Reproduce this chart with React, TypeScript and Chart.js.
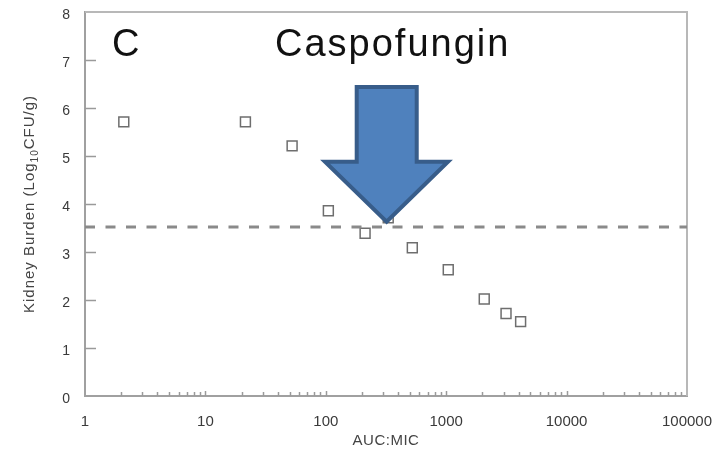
import { useEffect, useRef } from "react";
import { Chart, registerables } from "chart.js";

Chart.register(...registerables);

// ---- data ----
const aucMic = [2.1, 21.5, 52.5, 105, 212, 330, 523, 1040, 2070, 3140, 4150];
const kidneyBurden = [5.71, 5.71, 5.21, 3.86, 3.39, 3.71, 3.09, 2.63, 2.02, 1.72, 1.55];
const thresholdY = 3.52;
const thresholdX = [1, 100000];
const xTickValues = [1, 10, 100, 1000, 10000, 100000];
const yTickValues = [0, 1, 2, 3, 4, 5, 6, 7, 8];
const panelLetter = "C";
const panelTitle = "Caspofungin";
const xTitle = "AUC:MIC";
const yTitleParts = ["Kidney Burden (Log", "10", "CFU/g)"];
// arrow annotation in data units (x: AUC:MIC, y: log10 CFU/g)
const arrowX = { headLeft: 98.5, shaftLeft: 180.6, tip: 320, shaftRight: 569, headRight: 1035 };
const arrowY = { shaftTop: 6.44, headBase: 4.88, tip: 3.63 };

const FONT = "'Liberation Sans', Arial, Helvetica, sans-serif";

const decorPlugin = {
  id: "decor",
  beforeDatasetsDraw(chart: any) {
    const { ctx, chartArea: a, scales } = chart;
    const x = scales.x;
    const y = scales.y;
    ctx.save();
    // frame top and right
    ctx.strokeStyle = "#b8b8b8";
    ctx.lineWidth = 2;
    ctx.beginPath();
    ctx.moveTo(a.left, a.top);
    ctx.lineTo(a.right, a.top);
    ctx.lineTo(a.right, a.bottom);
    ctx.stroke();
    // inner ticks y
    ctx.strokeStyle = "#9a9a9a";
    ctx.lineWidth = 1.5;
    ctx.beginPath();
    for (const v of yTickValues) {
      if (v === 0 || v === 8) continue;
      const py = Math.round(y.getPixelForValue(v)) + 0.5;
      ctx.moveTo(a.left, py);
      ctx.lineTo(a.left + 11, py);
    }
    // inner minor ticks x
    for (let d = 1; d < 100000; d *= 10) {
      for (let k = 2; k <= 10; k++) {
        const v = d * k;
        const px = Math.round(x.getPixelForValue(v)) + 0.5;
        const len = k === 10 ? (v === 100000 ? 0 : 5) : 4;
        if (!len) continue;
        ctx.moveTo(px, a.bottom);
        ctx.lineTo(px, a.bottom - len);
      }
    }
    ctx.stroke();
    ctx.restore();
  },
  afterDatasetsDraw(chart: any) {
    const { ctx, scales } = chart;
    const x = scales.x;
    const y = scales.y;
    const X = (v: number) => x.getPixelForValue(v);
    const Y = (v: number) => y.getPixelForValue(v);
    ctx.save();
    ctx.beginPath();
    ctx.moveTo(X(arrowX.shaftLeft), Y(arrowY.shaftTop));
    ctx.lineTo(X(arrowX.shaftRight), Y(arrowY.shaftTop));
    ctx.lineTo(X(arrowX.shaftRight), Y(arrowY.headBase));
    ctx.lineTo(X(arrowX.headRight), Y(arrowY.headBase));
    ctx.lineTo(X(arrowX.tip), Y(arrowY.tip));
    ctx.lineTo(X(arrowX.headLeft), Y(arrowY.headBase));
    ctx.lineTo(X(arrowX.shaftLeft), Y(arrowY.headBase));
    ctx.closePath();
    ctx.fillStyle = "#4f81bd";
    ctx.fill();
    ctx.lineWidth = 4;
    ctx.lineJoin = "miter";
    ctx.strokeStyle = "#385d8a";
    ctx.stroke();
    ctx.restore();
  },
  afterDraw(chart: any) {
    const { ctx, chartArea: a } = chart;
    ctx.save();
    // panel letter and title
    ctx.fillStyle = "#111";
    ctx.font = `38px ${FONT}`;
    ctx.textBaseline = "alphabetic";
    ctx.textAlign = "left";
    ctx.fillText(panelLetter, a.left + 27, 56);
    (ctx as any).letterSpacing = "2px";
    ctx.fillText(panelTitle, a.left + 190, 56);
    // x title
    (ctx as any).letterSpacing = "0.5px";
    ctx.fillStyle = "#444";
    ctx.font = `15px ${FONT}`;
    ctx.textAlign = "center";
    ctx.textBaseline = "middle";
    ctx.fillText(xTitle, (a.left + a.right) / 2, 441);
    // y title with subscript
    (ctx as any).letterSpacing = "1px";
    const big = `15px ${FONT}`;
    const small = `10px ${FONT}`;
    ctx.font = big;
    const w0 = ctx.measureText(yTitleParts[0]).width;
    const w2 = ctx.measureText(yTitleParts[2]).width;
    ctx.font = small;
    const w1 = ctx.measureText(yTitleParts[1]).width;
    const total = w0 + w1 + w2;
    ctx.translate(30, (a.top + a.bottom) / 2);
    ctx.rotate(-Math.PI / 2);
    ctx.textAlign = "left";
    ctx.textBaseline = "middle";
    let cx = -total / 2;
    ctx.font = big;
    ctx.fillText(yTitleParts[0], cx, 0);
    cx += w0;
    ctx.font = small;
    ctx.fillText(yTitleParts[1], cx, 5);
    cx += w1;
    ctx.font = big;
    ctx.fillText(yTitleParts[2], cx, 0);
    ctx.restore();
  },
};

export default function App() {
  const ref = useRef<HTMLCanvasElement | null>(null);
  useEffect(() => {
    if (!ref.current) return;
    const chart = new Chart(ref.current, {
      type: "scatter",
      data: {
        datasets: [
          {
            label: "threshold",
            type: "line",
            data: thresholdX.map((v) => ({ x: v, y: thresholdY })),
            borderColor: "#8a8a8a",
            borderWidth: 3,
            borderDash: [10, 10.5],
            pointRadius: 0,
            fill: false,
          },
          {
            label: panelTitle,
            data: aucMic.map((v, i) => ({ x: v, y: kidneyBurden[i] })),
            pointStyle: "rect",
            pointRadius: 7,
            pointBorderWidth: 1.5,
            borderColor: "#6e6e6e",
            backgroundColor: "#ffffff",
          } as any,
        ],
      },
      options: {
        responsive: false,
        animation: false,
        layout: { padding: { top: 12, right: 30, left: 0, bottom: 0 } },
        plugins: { legend: { display: false }, tooltip: { enabled: false } },
        scales: {
          x: {
            type: "logarithmic",
            min: 1,
            max: 100000,
            afterBuildTicks: (s: any) => {
              s.ticks = xTickValues.map((v) => ({ value: v }));
            },
            afterFit: (s: any) => {
              s.height = 54;
              s.paddingLeft = 0;
              s.paddingRight = 0;
            },
            grid: { display: false, drawTicks: false },
            border: { display: true, color: "#a0a0a0", width: 2 },
            ticks: {
              autoSkip: false,
              maxRotation: 0,
              padding: 17,
              color: "#3a3a3a",
              font: { family: FONT, size: 15 },
              callback: (v: any) => String(v),
            },
          },
          y: {
            type: "linear",
            min: 0,
            max: 8,
            afterBuildTicks: (s: any) => {
              s.ticks = yTickValues.map((v) => ({ value: v }));
            },
            afterFit: (s: any) => {
              s.width = 85;
              s.paddingTop = 0;
              s.paddingBottom = 0;
            },
            grid: { display: false, drawTicks: false },
            border: { display: true, color: "#a0a0a0", width: 2 },
            ticks: {
              padding: 15,
              labelOffset: 3,
              color: "#3a3a3a",
              font: { family: FONT, size: 14 },
              callback: (v: any) => String(v),
            },
          },
        },
      },
      plugins: [decorPlugin],
    });
    return () => chart.destroy();
  }, []);
  return (
    <div style={{ position: "absolute", left: 0, top: 0, width: 717, height: 450, background: "#fff" }}>
      <canvas ref={ref} width={717} height={450} style={{ display: "block" }} />
    </div>
  );
}
